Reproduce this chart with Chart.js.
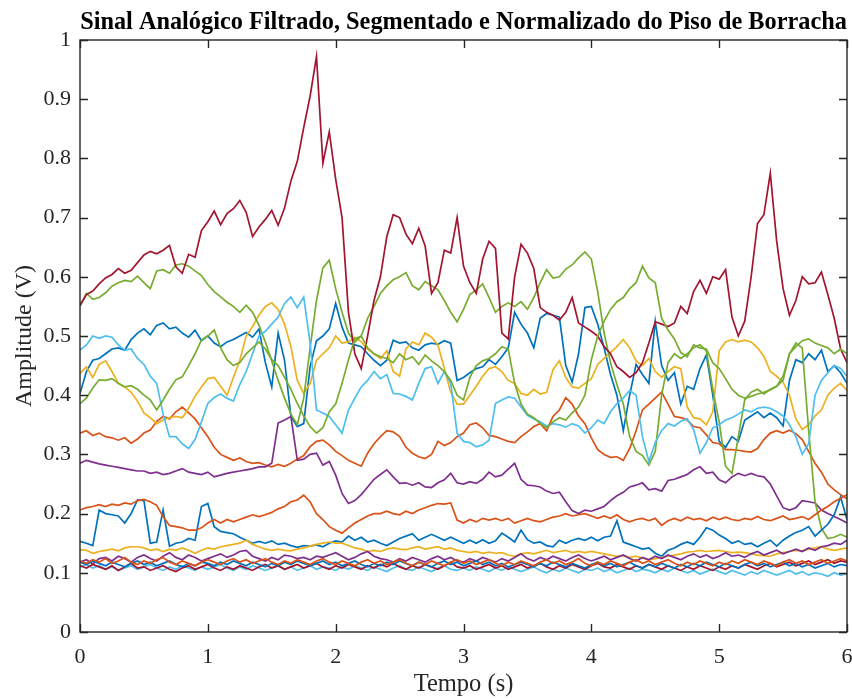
<!DOCTYPE html>
<html lang="pt">
<head>
<meta charset="utf-8">
<title>Sinal Analógico Filtrado</title>
<script src="https://cdn.jsdelivr.net/npm/chart.js@4.4.1/dist/chart.umd.min.js"></script>
<style>
  html, body { margin: 0; padding: 0; background: #fff; }
  canvas { display: block; }
</style>
</head>
<body>
<canvas id="sinal" width="852" height="699"></canvas>
<script>
// sampling: 121 samples, 0 .. 6 s
const dt = 0.05;
const nSamples = 121;

const xTicks = [0, 1, 2, 3, 4, 5, 6];
const xTickLabels = ['0', '1', '2', '3', '4', '5', '6'];
const yTicks = [0, 0.1, 0.2, 0.3, 0.4, 0.5, 0.6, 0.7, 0.8, 0.9, 1];
const yTickLabels = ['0', '0.1', '0.2', '0.3', '0.4', '0.5', '0.6', '0.7', '0.8', '0.9', '1'];

// normalized amplitude per sensor, one value every 50 ms
const blueMid = [
  .403, .440, .459, .462, .470, .478, .480, .476, .494, .505,
  .512, .502, .518, .522, .512, .515, .505, .498, .510, .492,
  .500, .488, .482, .490, .494, .500, .506, .498, .512, .455,
  .414, .505, .459, .364, .347, .352, .448, .492, .500, .512,
  .555, .515, .488, .485, .482, .470, .459, .450, .459, .493,
  .488, .490, .480, .476, .485, .488, .486, .492, .488, .425,
  .430, .438, .445, .448, .460, .452, .465, .480, .540, .520,
  .505, .480, .530, .538, .535, .532, .450, .422, .470, .548,
  .550, .520, .480, .435, .400, .340, .400, .452, .435, .420,
  .525, .450, .425, .438, .385, .415, .410, .445, .468, .400,
  .322, .312, .330, .322, .358, .365, .372, .362, .370, .362,
  .348, .425, .460, .455, .470, .460, .476, .440, .450, .438,
  .420
];
const orangeMid = [
  .336, .340, .332, .336, .330, .328, .324, .328, .319, .326,
  .336, .341, .356, .364, .360, .372, .380, .370, .360, .345,
  .330, .312, .300, .295, .290, .294, .288, .285, .286, .282,
  .279, .283, .280, .285, .292, .298, .313, .322, .324, .316,
  .305, .298, .290, .285, .280, .302, .318, .330, .340, .338,
  .330, .312, .302, .296, .293, .300, .322, .315, .320, .330,
  .336, .350, .353, .345, .332, .330, .326, .322, .320, .330,
  .338, .347, .352, .340, .364, .375, .396, .385, .365, .352,
  .328, .308, .300, .295, .296, .290, .310, .340, .375, .385,
  .395, .405, .385, .364, .362, .358, .347, .345, .333, .320,
  .318, .308, .308, .307, .305, .304, .310, .325, .336, .340,
  .336, .341, .335, .325, .305, .285, .270, .250, .240, .232,
  .225
];
const yellowMid = [
  .437, .448, .430, .452, .458, .440, .420, .414, .405, .390,
  .370, .362, .352, .358, .362, .364, .362, .378, .398, .414,
  .428, .430, .415, .400, .430, .459, .500, .516, .535, .550,
  .556, .545, .520, .482, .425, .403, .420, .459, .470, .480,
  .500, .488, .490, .498, .490, .478, .470, .462, .475, .440,
  .432, .478, .490, .485, .505, .498, .485, .445, .405, .385,
  .385, .400, .415, .432, .445, .448, .440, .425, .420, .403,
  .400, .410, .402, .405, .443, .458, .430, .414, .412, .420,
  .428, .452, .462, .472, .482, .494, .480, .458, .450, .462,
  .440, .430, .440, .448, .445, .380, .362, .360, .350, .372,
  .475, .490, .494, .490, .493, .490, .480, .466, .440, .432,
  .422, .400, .360, .342, .350, .365, .375, .400, .412, .420,
  .408
];
const purpleMid = [
  .285, .290, .287, .284, .282, .280, .278, .276, .274, .272,
  .272, .268, .270, .266, .268, .272, .276, .270, .268, .266,
  .270, .262, .265, .268, .270, .272, .274, .276, .279, .279,
  .285, .353, .358, .364, .290, .292, .300, .302, .282, .288,
  .265, .234, .217, .222, .232, .245, .258, .266, .274, .262,
  .251, .252, .248, .252, .245, .244, .252, .257, .268, .252,
  .250, .254, .251, .258, .270, .262, .265, .275, .285, .258,
  .248, .247, .245, .238, .234, .236, .220, .205, .200, .206,
  .204, .208, .212, .222, .230, .236, .245, .248, .252, .240,
  .242, .238, .256, .258, .262, .266, .274, .279, .268, .270,
  .257, .252, .262, .268, .264, .268, .264, .262, .250, .230,
  .210, .206, .210, .222, .220, .218, .206, .200, .195, .190,
  .184
];
const greenTop = [
  .550, .572, .562, .565, .573, .584, .590, .594, .592, .601,
  .590, .580, .610, .612, .606, .620, .622, .618, .610, .602,
  .587, .575, .566, .557, .550, .540, .552, .540, .518, .490,
  .458, .425, .395, .368, .350, .395, .480, .560, .615, .628,
  .580, .540, .505, .490, .500, .530, .550, .572, .585, .595,
  .600, .607, .585, .578, .592, .585, .578, .560, .540, .524,
  .545, .570, .578, .588, .565, .540, .550, .556, .550, .558,
  .545, .565, .590, .612, .598, .600, .613, .620, .632, .642,
  .630, .575, .505, .455, .418, .385, .330, .305, .298, .282,
  .305, .400, .455, .470, .462, .470, .480, .485, .475, .410,
  .355, .280, .268, .330, .392, .405, .410, .402, .410, .415,
  .432, .470, .488, .480, .340, .220, .175, .158, .160, .165,
  .160
];
const lightBlueMid = [
  .476, .485, .500, .496, .500, .498, .485, .476, .478, .462,
  .452, .432, .420, .368, .330, .330, .318, .310, .325, .355,
  .386, .396, .402, .395, .390, .418, .440, .470, .500, .508,
  .520, .532, .555, .566, .548, .566, .488, .375, .370, .364,
  .350, .336, .375, .395, .414, .425, .440, .428, .435, .403,
  .402, .398, .392, .420, .445, .448, .420, .440, .420, .336,
  .322, .320, .313, .316, .324, .386, .392, .397, .395, .380,
  .366, .360, .355, .348, .352, .350, .346, .352, .348, .336,
  .345, .358, .352, .372, .386, .395, .408, .400, .330, .288,
  .320, .340, .352, .348, .356, .360, .342, .302, .320, .345,
  .350, .358, .362, .368, .375, .372, .378, .380, .378, .372,
  .365, .350, .330, .300, .318, .400, .425, .438, .450, .445,
  .432
];
const darkRedTop = [
  .552, .570, .576, .588, .598, .604, .614, .606, .611, .624,
  .637, .643, .639, .645, .653, .617, .606, .638, .633, .678,
  .693, .711, .688, .707, .715, .729, .709, .668, .684, .697,
  .712, .687, .716, .762, .795, .852, .905, .972, .792, .845,
  .765, .700, .540, .470, .445, .500, .560, .600, .668, .705,
  .700, .672, .656, .682, .652, .572, .590, .645, .640, .700,
  .618, .590, .572, .630, .660, .648, .505, .495, .600, .655,
  .640, .614, .548, .540, .535, .527, .540, .565, .522, .515,
  .508, .500, .482, .470, .448, .440, .430, .438, .455, .488,
  .524, .520, .516, .522, .550, .538, .575, .594, .572, .600,
  .596, .612, .532, .500, .525, .600, .690, .705, .775, .660,
  .580, .535, .560, .600, .588, .590, .608, .570, .530, .478,
  .455
];
const blueLow = [
  .153, .150, .146, .206, .200, .198, .196, .184, .200, .223,
  .222, .150, .152, .206, .145, .150, .152, .158, .155, .212,
  .217, .178, .170, .168, .166, .160, .155, .150, .153, .150,
  .154, .148, .150, .146, .143, .146, .145, .147, .144, .150,
  .154, .152, .162, .155, .160, .152, .155, .150, .146, .152,
  .158, .162, .166, .155, .160, .165, .160, .155, .160, .155,
  .150, .155, .150, .156, .150, .154, .167, .160, .152, .172,
  .156, .150, .152, .146, .144, .155, .150, .155, .158, .155,
  .160, .154, .160, .162, .188, .152, .148, .144, .140, .142,
  .133, .128, .138, .142, .148, .152, .148, .160, .176, .172,
  .164, .158, .150, .154, .148, .150, .144, .150, .155, .145,
  .155, .162, .168, .172, .178, .162, .172, .182, .198, .228,
  .190
];
const orangeLow = [
  .206, .210, .212, .215, .212, .216, .214, .218, .216, .222,
  .224, .220, .214, .195, .180, .178, .176, .172, .172, .176,
  .184, .190, .184, .190, .186, .190, .194, .198, .195, .198,
  .202, .208, .212, .220, .223, .231, .220, .200, .190, .178,
  .172, .167, .176, .184, .190, .196, .200, .200, .204, .200,
  .198, .204, .200, .206, .210, .214, .217, .216, .218, .189,
  .184, .190, .186, .192, .189, .192, .188, .192, .184, .188,
  .192, .188, .186, .190, .194, .196, .200, .196, .198, .200,
  .196, .192, .196, .192, .198, .190, .186, .190, .192, .188,
  .192, .180, .188, .192, .188, .194, .190, .192, .188, .194,
  .190, .194, .190, .188, .192, .190, .195, .190, .188, .192,
  .196, .190, .192, .195, .190, .198, .206, .212, .220, .226,
  .232
];
const yellowLow = [
  .139, .138, .133, .136, .138, .140, .137, .142, .144, .144,
  .142, .138, .140, .136, .140, .138, .142, .138, .133, .138,
  .142, .140, .144, .146, .148, .150, .155, .148, .144, .140,
  .138, .140, .138, .137, .140, .142, .145, .148, .150, .152,
  .150, .150, .146, .142, .140, .136, .138, .136, .140, .142,
  .140, .139, .142, .144, .140, .142, .144, .140, .142, .138,
  .136, .134, .136, .133, .135, .133, .134, .130, .128, .132,
  .134, .132, .135, .138, .134, .136, .138, .134, .136, .134,
  .136, .134, .132, .130, .128, .129, .126, .128, .125, .122,
  .124, .126, .128, .130, .132, .135, .136, .138, .136, .137,
  .138, .136, .134, .135, .134, .132, .130, .129, .128, .132,
  .134, .136, .138, .137, .140, .142, .144, .140, .138, .140,
  .142
];
const purpleLow = [
  .118, .122, .115, .124, .126, .120, .128, .124, .118, .126,
  .130, .124, .120, .128, .134, .126, .122, .130, .126, .120,
  .124, .128, .132, .126, .130, .136, .138, .128, .124, .120,
  .126, .122, .130, .128, .124, .126, .122, .128, .126, .130,
  .134, .128, .122, .126, .132, .136, .128, .124, .122, .118,
  .124, .120, .126, .122, .118, .124, .128, .122, .126, .120,
  .118, .124, .120, .126, .122, .118, .124, .120, .126, .132,
  .124, .120, .126, .122, .128, .124, .120, .126, .130, .124,
  .120, .124, .128, .122, .126, .130, .124, .120, .126, .122,
  .128, .124, .130, .126, .122, .128, .132, .126, .130, .124,
  .128, .134, .128, .130, .126, .132, .136, .130, .134, .138,
  .132, .136, .140, .136, .142, .138, .144, .146, .150, .148,
  .155
];
const greenMid = [
  .386, .395, .412, .426, .425, .428, .420, .414, .416, .410,
  .400, .392, .375, .392, .410, .426, .431, .450, .470, .493,
  .500, .510, .480, .460, .450, .455, .470, .480, .490, .478,
  .460, .450, .430, .410, .386, .365, .347, .336, .345, .372,
  .385, .420, .460, .495, .500, .480, .470, .465, .462, .455,
  .470, .460, .465, .452, .468, .458, .450, .440, .425, .400,
  .392, .430, .450, .458, .462, .470, .482, .478, .420, .385,
  .368, .362, .352, .345, .355, .362, .358, .370, .380, .400,
  .460, .500, .525, .545, .558, .565, .580, .590, .618, .598,
  .590, .530, .510, .495, .472, .465, .485, .480, .478, .455,
  .445, .428, .410, .400, .395, .398, .402, .405, .409, .415,
  .425, .470, .482, .492, .495, .488, .484, .480, .470, .478,
  .470
];
const lightBlueLow = [
  .110, .114, .108, .112, .106, .110, .104, .108, .112, .106,
  .110, .114, .108, .104, .110, .106, .112, .108, .104, .110,
  .106, .110, .114, .108, .104, .110, .106, .112, .108, .104,
  .108, .112, .106, .110, .104, .108, .112, .106, .110, .108,
  .104, .110, .106, .112, .108, .104, .110, .106, .102, .108,
  .112, .106, .104, .110, .106, .102, .108, .112, .106, .104,
  .108, .104, .110, .106, .102, .108, .104, .110, .106, .102,
  .106, .110, .104, .100, .106, .102, .108, .104, .100, .106,
  .104, .108, .102, .106, .100, .104, .108, .102, .106, .104,
  .100, .106, .102, .108, .104, .100, .104, .098, .102, .106,
  .102, .098, .104, .100, .096, .102, .098, .104, .100, .096,
  .100, .104, .098, .102, .096, .100, .098, .094, .100, .096,
  .098
];
const darkRedLow = [
  .112, .108, .114, .110, .106, .112, .104, .110, .116, .108,
  .110, .104, .108, .112, .106, .102, .108, .112, .106, .110,
  .114, .108, .104, .110, .106, .112, .108, .104, .110, .114,
  .108, .112, .106, .110, .114, .108, .112, .116, .110, .106,
  .112, .108, .114, .110, .106, .112, .108, .114, .110, .116,
  .110, .106, .112, .108, .114, .110, .106, .112, .118, .110,
  .108, .112, .106, .110, .114, .108, .112, .106, .110, .114,
  .108, .112, .116, .110, .106, .112, .108, .114, .110, .106,
  .112, .116, .110, .108, .114, .110, .106, .112, .108, .114,
  .110, .106, .112, .108, .104, .110, .106, .112, .108, .104,
  .110, .106, .112, .108, .114, .110, .106, .112, .116, .110,
  .114, .118, .112, .116, .120, .114, .118, .122, .116, .120,
  .118
];
const blueBottom = [
  .118, .114, .120, .116, .112, .118, .114, .110, .116, .120,
  .114, .118, .112, .116, .120, .114, .110, .116, .112, .118,
  .116, .112, .118, .114, .120, .116, .112, .118, .114, .110,
  .116, .112, .118, .114, .120, .116, .112, .116, .120, .114,
  .118, .112, .116, .120, .114, .110, .116, .112, .118, .114,
  .120, .116, .112, .118, .114, .110, .116, .120, .114, .118,
  .112, .116, .120, .114, .118, .112, .116, .110, .114, .118,
  .114, .110, .116, .112, .118, .114, .110, .116, .112, .108,
  .114, .118, .112, .116, .110, .114, .118, .112, .108, .114,
  .110, .116, .112, .108, .114, .110, .116, .112, .118, .114,
  .110, .116, .112, .108, .114, .118, .112, .116, .110, .114,
  .118, .112, .116, .110, .114, .108, .112, .116, .110, .114,
  .112
];
const orangeBottom = [
  .120, .116, .122, .118, .124, .116, .120, .126, .118, .114,
  .120, .116, .122, .126, .118, .114, .120, .116, .112, .118,
  .122, .118, .114, .120, .124, .118, .122, .116, .120, .124,
  .118, .114, .120, .116, .122, .118, .114, .120, .124, .118,
  .114, .120, .116, .112, .118, .122, .116, .120, .114, .118,
  .122, .116, .112, .118, .114, .120, .116, .112, .118, .122,
  .116, .120, .114, .118, .122, .116, .112, .118, .114, .120,
  .116, .112, .118, .122, .116, .120, .114, .118, .124, .116,
  .112, .118, .114, .120, .116, .112, .118, .122, .116, .120,
  .114, .118, .122, .116, .112, .118, .114, .120, .116, .112,
  .118, .114, .120, .116, .122, .118, .114, .120, .116, .112,
  .118, .122, .116, .120, .114, .118, .122, .116, .120, .124,
  .120
];

// MATLAB default colour order
const C = {
  blue: '#0072BD', orange: '#D95319', yellow: '#EDB120', purple: '#7E2F8E',
  green: '#77AC30', lightBlue: '#4DBEEE', darkRed: '#A2142F'
};

// plotted in this order, later lines on top
const series = [
  [blueMid, C.blue], [orangeMid, C.orange], [yellowMid, C.yellow], [purpleMid, C.purple],
  [greenTop, C.green], [lightBlueMid, C.lightBlue], [darkRedTop, C.darkRed],
  [blueLow, C.blue], [orangeLow, C.orange], [yellowLow, C.yellow], [purpleLow, C.purple],
  [greenMid, C.green], [lightBlueLow, C.lightBlue], [darkRedLow, C.darkRed],
  [blueBottom, C.blue], [orangeBottom, C.orange]
];

const time = Array.from({ length: nSamples }, (_, i) => Math.round(i * dt * 100) / 100);

const datasets = series.map(([values, color], i) => ({
  data: values.map((v, k) => ({ x: time[k], y: v })),
  borderColor: color,
  borderWidth: 1.7,
  pointRadius: 0,
  fill: false,
  tension: 0,
  xAxisID: 'x',
  yAxisID: 'y',
  order: series.length - i
}));

const serif = "'Liberation Serif', 'Times New Roman', Times, serif";
const axisColor = '#262626';

// box around the axes with inward tick marks on all four sides
const frame = {
  id: 'frame',
  afterDatasetsDraw(chart) {
    const { ctx, chartArea: a, scales: { x, y } } = chart;
    const len = 8;
    ctx.save();
    ctx.strokeStyle = axisColor;
    ctx.lineWidth = 1.4;
    ctx.strokeRect(a.left, a.top, a.right - a.left, a.bottom - a.top);
    ctx.beginPath();
    x.ticks.forEach(t => {
      const px = Math.round(x.getPixelForValue(t.value)) + 0.5;
      ctx.moveTo(px, a.bottom); ctx.lineTo(px, a.bottom - len);
      ctx.moveTo(px, a.top); ctx.lineTo(px, a.top + len);
    });
    y.ticks.forEach(t => {
      const py = Math.round(y.getPixelForValue(t.value)) + 0.5;
      ctx.moveTo(a.left, py); ctx.lineTo(a.left + len, py);
      ctx.moveTo(a.right, py); ctx.lineTo(a.right - len, py);
    });
    ctx.stroke();
    ctx.restore();
  }
};

new Chart(document.getElementById('sinal'), {
  type: 'line',
  data: { datasets },
  options: {
    responsive: false,
    animation: false,
    devicePixelRatio: 1,
    layout: { padding: { left: 0, right: 5, top: 0, bottom: 0 } },
    plugins: {
      legend: { display: false },
      tooltip: { enabled: false },
      title: { display: false }
    },
    scales: {
      x: {
        type: 'linear',
        position: 'bottom',
        min: 0,
        max: 6,
        afterFit: s => { s.height = 67; s.paddingLeft = 0; s.paddingRight = 0; },
        afterBuildTicks: s => { s.ticks = xTicks.map(value => ({ value })); },
        grid: { display: false, drawTicks: false },
        border: { display: false },
        ticks: {
          autoSkip: false,
          maxRotation: 0,
          padding: 12,
          color: axisColor,
          font: { family: serif, size: 22 },
          callback: (v, i) => xTickLabels[i]
        },
        title: {
          display: true,
          text: 'Tempo (s)',
          color: axisColor,
          font: { family: serif, size: 24.5 },
          padding: { top: 0, bottom: 0 }
        }
      },
      top: {
        type: 'linear',
        position: 'top',
        min: 0,
        max: 6,
        afterFit: s => { s.height = 40; s.paddingLeft = 0; s.paddingRight = 0; },
        grid: { display: false, drawTicks: false },
        border: { display: false },
        ticks: { display: false },
        title: {
          display: true,
          text: 'Sinal Analógico Filtrado, Segmentado e Normalizado do Piso de Borracha',
          color: '#000',
          font: { family: serif, size: 24.3, weight: 'bold' },
          padding: { top: 8, bottom: 0 }
        }
      },
      y: {
        type: 'linear',
        position: 'left',
        min: 0,
        max: 1,
        afterFit: s => { s.width = 80; },
        afterBuildTicks: s => { s.ticks = yTicks.map(value => ({ value })); },
        grid: { display: false, drawTicks: false },
        border: { display: false },
        ticks: {
          padding: 9,
          color: axisColor,
          font: { family: serif, size: 22 },
          callback: (v, i) => yTickLabels[i]
        },
        title: {
          display: true,
          text: 'Amplitude (V)',
          color: axisColor,
          font: { family: serif, size: 24 },
          padding: { top: 10, bottom: 0 }
        }
      }
    }
  },
  plugins: [frame]
});
</script>
</body>
</html>
